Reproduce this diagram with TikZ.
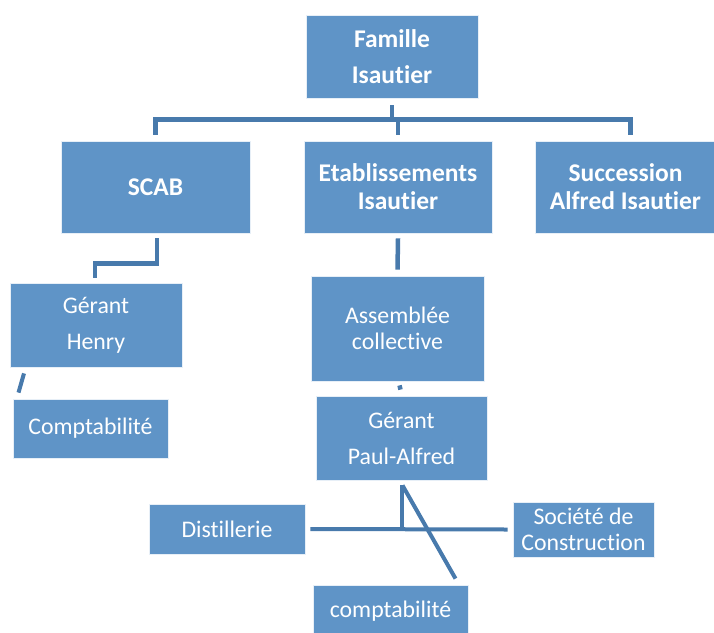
\documentclass[tikz,border=0pt]{standalone}
\usepackage{fontspec}
\setmainfont{Carlito}[Ligatures=NoCommon]
\usetikzlibrary{positioning}

\definecolor{boxblue}{RGB}{95,148,199}
\definecolor{lineblue}{RGB}{72,122,172}

\begin{document}
\begin{tikzpicture}[x=1pt, y=-1pt,
            % Styles
            box/.style={rectangle, draw=white!85!boxblue, line width=0.8pt, fill=boxblue, text=white, align=center, inner sep=0pt, font=\fontsize{23.8}{26}\selectfont},
            topbox/.style={box, font=\fontsize{25.5}{28}\selectfont\bfseries},
            line/.style={draw=lineblue, line width=4.5pt}
        ]
        \useasboundingbox (0,0) rectangle (714,632);

        % Nodes
        \node [topbox, minimum width=172pt, minimum height=83pt] (famille) at (392,56.5) {Famille\\[8pt]Isautier};

        % Second row
        \node [topbox, minimum width=189pt, minimum height=92pt] (scab) at (155.5,187) {SCAB};
        \node [topbox, minimum width=188pt, minimum height=92pt] (etab) at (398,187) {Etablissements\\Isautier};
        \node [topbox, minimum width=181pt, minimum height=92pt] (succ) at (625.5,187) {Succession\\Alfred Isautier};

        % SCAB side
        \node [box, minimum width=172pt, minimum height=84pt] (henry) at (96,325) {G\'erant\\[10pt]Henry};
        \node [box, minimum width=155pt, minimum height=59pt] (compta) at (90.5,428.5) {Comptabilit\'e};

        % Etablissements side
        \node [box, minimum width=173pt, minimum height=105pt] (assemblee) at (397.5,328.5) {Assembl\'ee\\collective};
        \node [box, minimum width=171pt, minimum height=84pt] (gerant) at (401.5,438) {G\'erant\\[10pt]Paul-Alfred};
        \node [box, minimum width=156pt, minimum height=50pt] (distil) at (227,529) {Distillerie};
        \node [box, minimum width=141pt, minimum height=55pt] (societe) at (583.5,529.5) {Soci\'et\'e de\\Construction};
        \node [box, minimum width=155pt, minimum height=52pt] (comptab) at (390.5,611) {comptabilit\'e};

        % Edges
        \path [line] ([yshift=-7pt]famille.south) -- ++(0,16);
        \path [line] ([yshift=6pt]scab.north) -- ++(0,-15) -| ([xshift=5pt,yshift=6pt]succ.north);
        \path [line] ([yshift=6pt]etab.north) -- ++(0,-15);
        \path [line] ([xshift=1.5pt,yshift=-5pt]scab.south) -- ++(0,25) -| ([xshift=-1pt,yshift=5pt]henry.north);
        \path [draw=lineblue, line width=4pt] ([xshift=-72pt,yshift=-6pt]henry.south) -- ([xshift=-72pt,yshift=6pt]compta.north);
        \path [line] ([yshift=-5pt]etab.south) -- ([yshift=6pt]assemblee.north);
        \path [line] ([xshift=2pt,yshift=-4pt]assemblee.south) -- ([xshift=-1pt,yshift=6pt]gerant.north);
        \path [line, line width=4pt] ([yshift=-5pt]gerant.south) -- ++(0,44);
        \path [line, line width=4pt] ([xshift=5pt]distil.east) -- ([xshift=-5pt]societe.west);
        \path [line, line width=4pt] ([xshift=1pt,yshift=-5pt]gerant.south) -- ([xshift=65pt,yshift=6pt]comptab.north);

    \end{tikzpicture}
\end{document}
